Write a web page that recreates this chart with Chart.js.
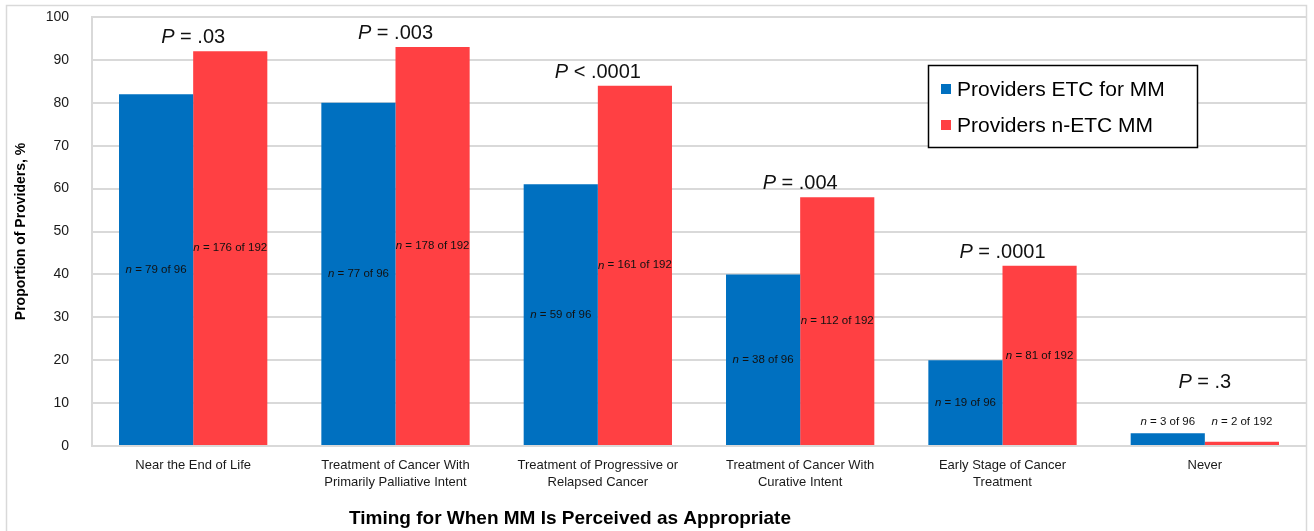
<!DOCTYPE html>
<html>
<head>
<meta charset="utf-8">
<script src="https://cdn.jsdelivr.net/npm/chart.js@4.4.0/dist/chart.umd.min.js"></script>
<style>
  html, body { margin: 0; padding: 0; background: #fff; }
  #wrap { width: 1314px; height: 531px; position: relative; }
</style>
</head>
<body>
<div id="wrap"><canvas id="mmChart"></canvas></div>
<script>
// Chart values
const categories = [
    ["Near the End of Life"],
    ["Treatment of Cancer With", "Primarily Palliative Intent"],
    ["Treatment of Progressive or", "Relapsed Cancer"],
    ["Treatment of Cancer With", "Curative Intent"],
    ["Early Stage of Cancer", "Treatment"],
    ["Never"]
];
const seriesNames = ["Providers ETC for MM", "Providers n-ETC MM"];
const etcValues = [82, 80, 61, 40, 20, 3];
const netcValues = [92, 93, 84, 58, 42, 1];
const etcCounts = ["79 of 96", "77 of 96", "59 of 96", "38 of 96", "19 of 96", "3 of 96"];
const netcCounts = ["176 of 192", "178 of 192", "161 of 192", "112 of 192", "81 of 192", "2 of 192"];
const pOperators = ["=", "=", "<", "=", "=", "="];
const pValues = [".03", ".003", ".0001", ".004", ".0001", ".3"];
const yTitle = "Proportion of Providers, %";
const xTitle = "Timing for When MM Is Perceived as Appropriate";

const FONT = "'Liberation Sans', Arial, Helvetica, sans-serif";
const BLUE = "#0070C0";
const RED = "#FF4043";

// draw text with some parts in italic, centred on x
function drawMixed(ctx, parts, x, y, size) {
    let total = 0;
    const widths = parts.map(([txt, italic]) => {
        ctx.font = (italic ? "italic " : "") + size + "px " + FONT;
        const w = ctx.measureText(txt).width;
        total += w;
        return w;
    });
    let cx = x - total / 2;
    parts.forEach(([txt, italic], i) => {
        ctx.font = (italic ? "italic " : "") + size + "px " + FONT;
        ctx.fillText(txt, cx, y);
        cx += widths[i];
    });
}

const annotations = {
    id: "annotations",
    beforeDraw(chart) {
        const ctx = chart.ctx;
        ctx.save();
        ctx.strokeStyle = "#d9d9d9";
        ctx.lineWidth = 1.5;
        ctx.strokeRect(6.5, 5.5, 1300, 560);
        ctx.restore();
    },
    afterDatasetsDraw(chart) {
        const ctx = chart.ctx;
        const yScale = chart.scales.y;
        const metaA = chart.getDatasetMeta(0);
        const metaB = chart.getDatasetMeta(1);
        ctx.save();
        ctx.fillStyle = "#111";
        ctx.textAlign = "left";
        categories.forEach((c, i) => {
            const a = metaA.data[i];
            const b = metaB.data[i];
            const top = Math.max(etcValues[i], netcValues[i]);
            let yA, yB, pBase;
            ctx.textBaseline = "middle";
            if (top < 10) {
                // small bars: counts sit above the bars
                yA = yB = yScale.getPixelForValue(top) - 11;
                pBase = yA - 34;
            } else {
                yA = (a.y + a.base) / 2;
                yB = (b.y + b.base) / 2;
                pBase = Math.min(a.y, b.y) - 8;
            }
            drawMixed(ctx, [["n", true], [" = " + etcCounts[i], false]], a.x, yA, 11.5);
            drawMixed(ctx, [["n", true], [" = " + netcCounts[i], false]], b.x, yB, 11.5);
            ctx.textBaseline = "alphabetic";
            drawMixed(ctx, [["P", true], [" " + pOperators[i] + " " + pValues[i], false]], (a.x + b.x) / 2, pBase, 20);
        });
        ctx.restore();
    },
    afterDraw(chart) {
        const ctx = chart.ctx;
        ctx.save();
        // x axis title
        ctx.fillStyle = "#000";
        ctx.font = "bold 19px " + FONT;
        ctx.textAlign = "center";
        ctx.textBaseline = "middle";
        ctx.fillText(xTitle, 570, 519);

        // legend box
        ctx.fillStyle = "#fff";
        ctx.fillRect(928, 65, 269, 82);
        ctx.strokeStyle = "#000";
        ctx.lineWidth = 1.5;
        ctx.strokeRect(928.5, 65.5, 269, 82);
        ctx.textAlign = "left";
        ctx.font = "21px " + FONT;
        chart.data.datasets.forEach((ds, i) => {
            const cy = 89 + i * 36;
            ctx.fillStyle = ds.backgroundColor;
            ctx.fillRect(941, cy - 5, 10, 10);
            ctx.fillStyle = "#000";
            ctx.fillText(ds.label, 957, cy + 1);
        });
        ctx.restore();
    }
};

new Chart(document.getElementById("mmChart"), {
    type: "bar",
    data: {
        labels: categories,
        datasets: [{
            label: seriesNames[0],
            data: etcValues,
            backgroundColor: BLUE,
            categoryPercentage: 0.733,
            barPercentage: 1.0
        }, {
            label: seriesNames[1],
            data: netcValues,
            backgroundColor: RED,
            categoryPercentage: 0.733,
            barPercentage: 1.0
        }]
    },
    options: {
        responsive: true,
        maintainAspectRatio: false,
        animation: false,
        layout: {
            padding: { left: 6, right: 8, top: 17, bottom: 0 }
        },
        scales: {
            x: {
                grid: { display: false, drawTicks: false },
                border: { display: false },
                ticks: {
                    color: "#1a1a1a",
                    font: { family: FONT, size: 13, lineHeight: 1.3 },
                    padding: 11,
                    maxRotation: 0,
                    autoSkip: false
                },
                afterFit(scale) { scale.height = 85; }
            },
            y: {
                min: 0,
                max: 100,
                grid: { color: "#d9d9d9", lineWidth: 2, drawTicks: false },
                border: { display: true, color: "#d9d9d9", width: 2 },
                ticks: {
                    stepSize: 10,
                    color: "#1a1a1a",
                    font: { family: FONT, size: 14 },
                    padding: 23
                },
                title: {
                    display: true,
                    text: yTitle,
                    color: "#000",
                    font: { family: FONT, size: 14, weight: "bold" },
                    padding: { top: 7, bottom: 0 }
                },
                afterFit(scale) {
                    scale.width = 86;
                    scale.paddingTop = 0;
                    scale.paddingBottom = 0;
                }
            }
        },
        plugins: {
            legend: { display: false },
            tooltip: { enabled: false }
        }
    },
    plugins: [annotations]
});
</script>
</body>
</html>
